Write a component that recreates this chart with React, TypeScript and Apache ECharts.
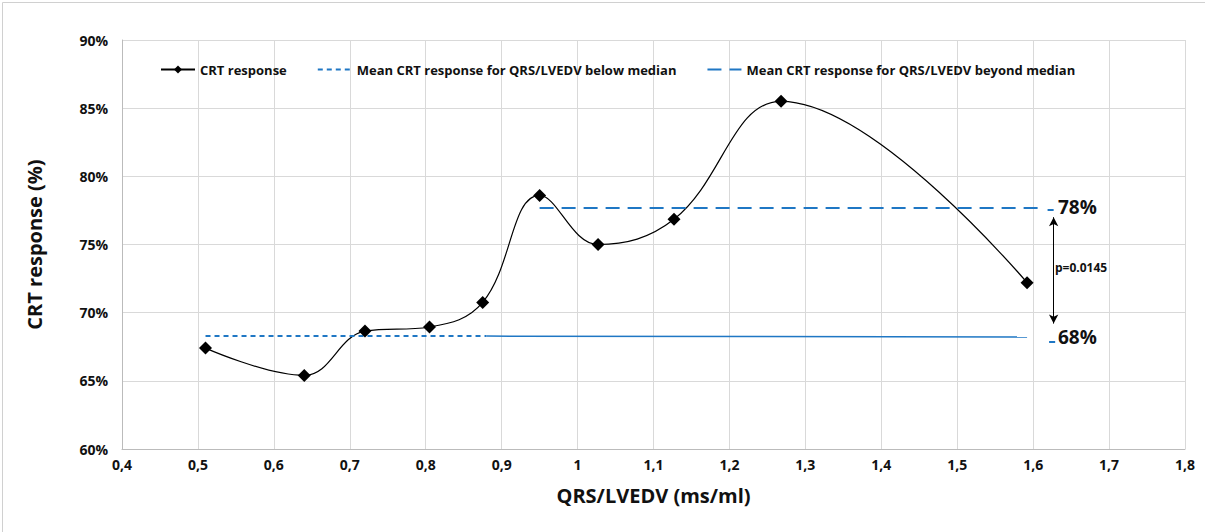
import React, { useEffect, useRef } from "react";
import * as echarts from "echarts";

const xValues = [0.51, 0.64, 0.72, 0.805, 0.875, 0.95, 1.027, 1.127, 1.268, 1.592];
const crtResponse = [67.4, 65.4, 68.65, 68.95, 70.75, 78.6, 75.0, 76.85, 85.5, 72.2];
const belowMedian = [[0.51, 68.28], [0.88, 68.28]];
const belowMedianSolid = [[0.88, 68.28], [1.592, 68.22]];
const beyondMedian = [[0.95, 77.67], [1.612, 77.67]];
const xTicks = ["0,4", "0,5", "0,6", "0,7", "0,8", "0,9", "1", "1,1", "1,2", "1,3", "1,4", "1,5", "1,6", "1,7", "1,8"];

const BLUE = "#1f77c4";
const FONT = "'Open Sans', 'Liberation Sans', 'DejaVu Sans', sans-serif";

export default function App() {
  const ref = useRef<HTMLDivElement>(null);
  useEffect(() => {
    const chart = echarts.init(ref.current!, null, { renderer: "svg" });
    chart.setOption({
      animation: false,
      textStyle: { fontFamily: FONT },
      grid: { left: 122, right: 20, top: 40, bottom: 83 },
      legend: {
        top: 58, left: 155, itemGap: 30, itemWidth: 34, itemHeight: 10,
        textStyle: { fontSize: 13, fontWeight: "bold", color: "#111" },
        data: [
          { name: "CRT response" },
          { name: "Mean CRT response for QRS/LVEDV below median", itemStyle: { opacity: 0 } },
          { name: "Mean CRT response for QRS/LVEDV beyond median", itemStyle: { opacity: 0 } },
        ],
      },
      xAxis: {
        type: "value", min: 0.4, max: 1.8, interval: 0.1,
        name: "QRS/LVEDV (ms/ml)", nameLocation: "middle", nameGap: 36,
        nameTextStyle: { fontSize: 20, fontWeight: "bold", color: "#111" },
        axisLine: { lineStyle: { color: "#bbb" } },
        axisTick: { show: false },
        axisLabel: { fontSize: 14, fontWeight: "bold", color: "#111", formatter: (v: number) => xTicks[Math.round((v - 0.4) * 10)] },
        splitLine: { lineStyle: { color: "#d9d9d9" } },
      },
      yAxis: {
        type: "value", min: 60, max: 90, interval: 5,
        name: "CRT response (%)", nameLocation: "middle", nameGap: 78,
        nameTextStyle: { fontSize: 20, fontWeight: "bold", color: "#111" },
        axisLine: { show: true, lineStyle: { color: "#bbb" } },
        axisTick: { show: false },
        axisLabel: { fontSize: 14, fontWeight: "bold", color: "#111", formatter: "{value}%", margin: 14 },
        splitLine: { lineStyle: { color: "#d9d9d9" } },
      },
      series: [
        {
          name: "CRT response", type: "line", smooth: 0.4,
          data: xValues.map((x, i) => [x, crtResponse[i]]),
          symbol: "diamond", symbolSize: 13,
          itemStyle: { color: "#000" }, lineStyle: { color: "#000", width: 1.2 },
          markLine: {
            silent: true, symbol: ["arrow", "arrow"], symbolSize: [7, 9],
            label: { show: false },
            lineStyle: { color: "#000", width: 1, type: "solid" },
            data: [[{ coord: [1.627, 77.0] }, { coord: [1.627, 69.2] }]],
          },
        },
        {
          name: "Mean CRT response for QRS/LVEDV below median", type: "line",
          data: belowMedian, symbol: "none", color: BLUE,
          lineStyle: { color: BLUE, width: 2, type: [5, 4] },
          markLine: {
            silent: true, symbol: "none", label: { show: false },
            lineStyle: { color: BLUE, width: 2, type: "solid" },
            data: [
              [{ coord: [1.619, 77.55] }, { coord: [1.627, 77.55] }],
              [{ coord: [1.621, 67.9] }, { coord: [1.629, 67.9] }],
            ],
          },
        },
        {
          name: "belowSolid", type: "line", data: belowMedianSolid, symbol: "none",
          lineStyle: { color: BLUE, width: 1.5 },
        },
        {
          name: "Mean CRT response for QRS/LVEDV beyond median", type: "line",
          data: beyondMedian, symbol: "none", color: BLUE,
          lineStyle: { color: BLUE, width: 2, type: [14, 8] },
        },
      ],
      graphic: [
        { type: "rect", left: 0, top: 0, shape: { width: 1204, height: 531 }, style: { fill: "none", stroke: "#d0d0d0", lineWidth: 1 }, silent: true },
        { type: "text", x: 1058, y: 197, style: { text: "78%", font: `bold 19px ${FONT}`, fill: "#111" } },
        { type: "text", x: 1058, y: 327, style: { text: "68%", font: `bold 19px ${FONT}`, fill: "#111" } },
        { type: "text", x: 1055, y: 261, style: { text: "p=0.0145", font: `bold 12px ${FONT}`, fill: "#111" } },
      ],
    });
    return () => chart.dispose();
  }, []);
  return <div ref={ref} style={{ position: "absolute", left: 0, top: 0, width: 1205, height: 532, background: "#fff" }} />;
}
